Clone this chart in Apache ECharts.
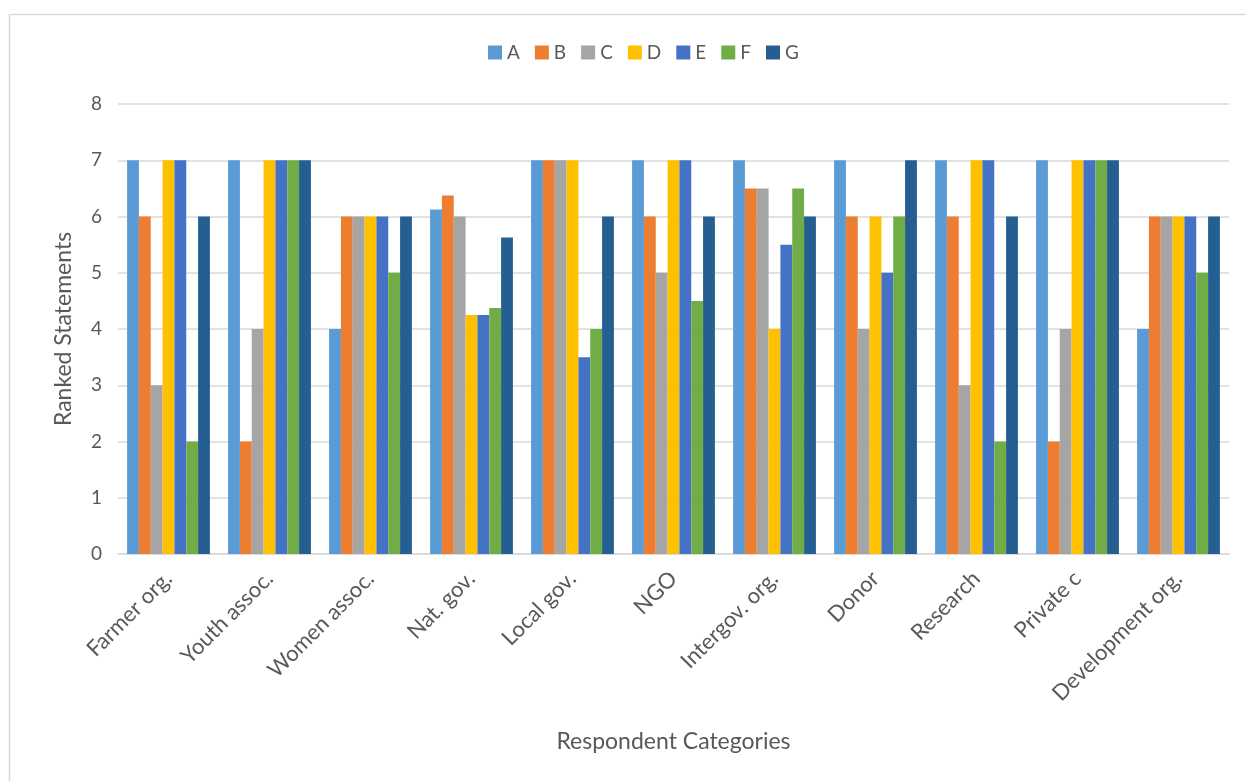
<!DOCTYPE html>
<html>
<head>
<meta charset="utf-8">
<script src="https://cdn.jsdelivr.net/npm/echarts@6/dist/echarts.min.js"></script>
<style>
  html, body { margin: 0; padding: 0; background: #fff; }
  #chart { width: 1246px; height: 781px; }
</style>
</head>
<body>
<div id="chart"></div>
<script>
const categories = ['Farmer org.', 'Youth assoc.', 'Women assoc.', 'Nat. gov.', 'Local gov.', 'NGO',
  'Intergov. org.', 'Donor', 'Research', 'Private c', 'Development org.'];
const seriesNames = ['A', 'B', 'C', 'D', 'E', 'F', 'G'];
const colors = ['#5B9BD5', '#ED7D31', '#A5A5A5', '#FFC000', '#4472C4', '#70AD47', '#255E91'];

const valA = [7, 7, 4, 6.125, 7, 7, 7, 7, 7, 7, 4];
const valB = [6, 2, 6, 6.375, 7, 6, 6.5, 6, 6, 2, 6];
const valC = [3, 4, 6, 6, 7, 5, 6.5, 4, 3, 4, 6];
const valD = [7, 7, 6, 4.25, 7, 7, 4, 6, 7, 7, 6];
const valE = [7, 7, 6, 4.25, 3.5, 7, 5.5, 5, 7, 7, 6];
const valF = [2, 7, 5, 4.375, 4, 4.5, 6.5, 6, 2, 7, 5];
const valG = [6, 7, 6, 5.625, 6, 6, 6, 7, 6, 7, 6];
const values = [valA, valB, valC, valD, valE, valF, valG];

const yTicks = [0, 1, 2, 3, 4, 5, 6, 7, 8];

const font = 'Lato, "Open Sans", sans-serif';
const textColor = '#595959';
const lineColor = '#D9D9D9';

const chart = echarts.init(document.getElementById('chart'));
chart.setOption({
  animation: false,
  color: colors,
  textStyle: {fontFamily: font},
  graphic: [{
    type: 'rect',
    shape: {x: 9.5, y: 14.5, width: 1300, height: 900},
    style: {fill: 'none', stroke: lineColor, lineWidth: 1.5},
    silent: true
  }],
  legend: {
    top: 38,
    left: 483,
    itemWidth: 14,
    itemHeight: 14,
    itemGap: 15,
    icon: 'rect',
    textStyle: {color: textColor, fontSize: 19, fontFamily: font}
  },
  grid: {left: 118, right: 17, top: 104, bottom: 227, containLabel: false},
  xAxis: {
    type: 'category',
    data: categories,
    name: 'Respondent Categories',
    nameLocation: 'middle',
    nameGap: 176,
    nameTextStyle: {color: textColor, fontSize: 23, fontFamily: font},
    axisTick: {show: false},
    axisLine: {lineStyle: {color: lineColor, width: 1.5}},
    axisLabel: {
      rotate: 45,
      margin: 21,
      interval: 0,
      color: textColor,
      fontSize: 22,
      fontFamily: font
    }
  },
  yAxis: {
    type: 'value',
    min: yTicks[0],
    max: yTicks[yTicks.length - 1],
    interval: 1,
    name: 'Ranked Statements',
    nameLocation: 'middle',
    nameGap: 43,
    nameTextStyle: {color: textColor, fontSize: 23, fontFamily: font},
    axisLine: {show: false},
    axisTick: {show: false},
    splitLine: {lineStyle: {color: lineColor, width: 1.5}},
    axisLabel: {color: textColor, fontSize: 19, margin: 16, fontFamily: font}
  },
  series: seriesNames.map((name, i) => ({
    name: name,
    type: 'bar',
    data: values[i],
    barGap: '0%',
    barCategoryGap: '18%'
  }))
});
</script>
</body>
</html>
